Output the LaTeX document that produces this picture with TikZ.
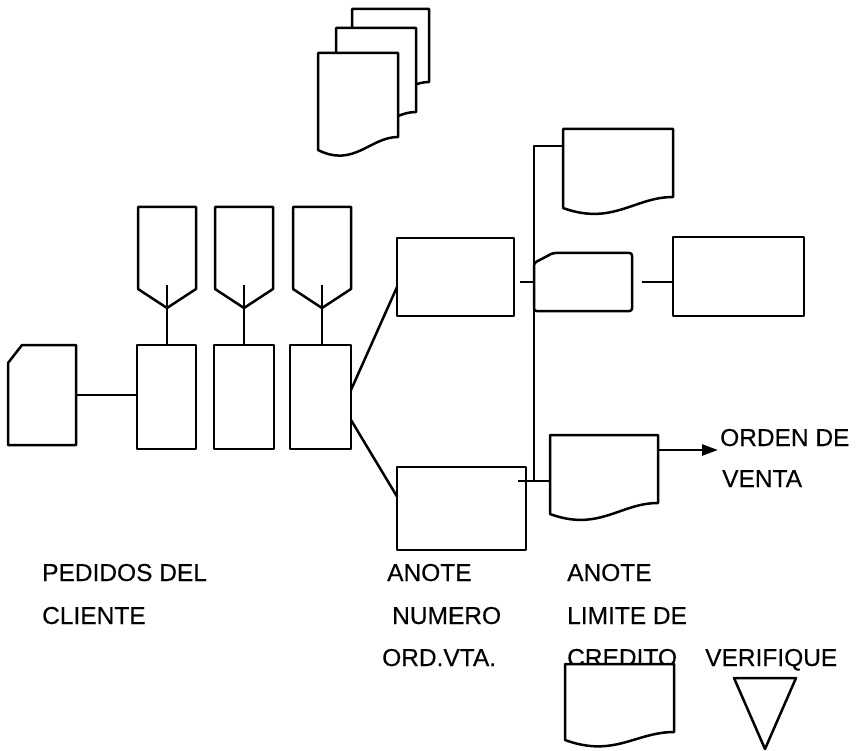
\documentclass[tikz,border=0pt]{standalone}
\usepackage{fontspec}
\setmainfont{Liberation Sans}
\usetikzlibrary{calc,arrows.meta}

% document symbol drawn over the frame of node #1; #2 = rise of the right end of the wavy base
\newcommand{\drawdoc}[2]{%
  \draw[outline, fill=white] (#1.south west) -- (#1.north west) -- (#1.north east)
    -- ($(#1.south east)+(0,-#2)$)
    .. controls ($(#1.south east)!0.35!(#1.south west)+(0,-#2)$)
       and ($(#1.south west)!0.45!(#1.south east)+(0,18)$) .. (#1.south west) -- cycle;}

\begin{document}
\begin{tikzpicture}[x=1pt,y=-1pt,
  outline/.style={line width=2.5pt, line join=round},
  frame/.style={draw=none, inner sep=0pt, outer sep=0pt, rectangle},
  procbox/.style={frame, draw, outline},
  label/.style={anchor=base west, inner sep=0pt,
    font={\fontsize{24.5}{28}\selectfont\addfontfeatures{FakeBold=0.3}}},
]
\useasboundingbox (0,0) rectangle (859,751);

% ---- stacked documents at the top
\node[frame, minimum width=77, minimum height=86] (s1) at (390.5,52) {};
\node[frame, minimum width=80, minimum height=97] (s2) at (376,76.5) {};
\node[frame, minimum width=80, minimum height=97] (s3) at (358,101.5) {};
\drawdoc{s1}{13}
\drawdoc{s2}{13}
\drawdoc{s3}{13}

% ---- punched card of the orders
\node[frame, minimum width=68, minimum height=100] (c0) at (42,395) {};
\draw[outline] ($(c0.north west)+(0,18)$) -- ($(c0.north west)+(14,0)$) -- (c0.north east)
  -- (c0.south east) -- (c0.south west) -- cycle;

% ---- three process boxes
\node[procbox, minimum width=59, minimum height=104] (b1) at (166.5,397) {};
\node[procbox, minimum width=60, minimum height=104] (b2) at (244,397) {};
\node[procbox, minimum width=61, minimum height=104] (b3) at (320.5,397) {};

% ---- off-page connectors above the boxes
\foreach \n/\cx in {p1/167, p2/244, p3/322} {
  \node[frame, minimum width=58, minimum height=101] (\n) at (\cx,257.5) {};
  \draw[outline] (\n.south) -- ($(\n.south west)+(0,-19)$) -- (\n.north west)
    -- (\n.north east) -- ($(\n.south east)+(0,-19)$) -- cycle;
}
\draw[outline] ($(p1.south)+(0,-23)$) -- (p1.south |- b1.north);
\draw[outline] ($(p2.south)+(0,-23)$) -- (p2.south |- b2.north);
\draw[outline] ($(p3.south)+(0,-23)$) -- (p3.south |- b3.north);
\draw[outline] (c0.east) -- (c0.east -| b1.west);

% ---- the two "ANOTE" boxes
\node[procbox, minimum width=117, minimum height=78] (A1) at (455.5,277) {};
\node[procbox, minimum width=129, minimum height=83] (A2) at (461.5,508.5) {};
\draw[outline] ($(b3.east)+(0,-7)$) -- ($(A1.west)+(0,10)$);
\draw[outline] ($(b3.east)+(0,23)$) -- ($(A2.west)+(0,-12)$);

% ---- right-hand column
\node[frame, minimum width=110, minimum height=79] (D1) at (618,168.5) {};
\node[frame, minimum width=108, minimum height=79] (D2) at (604,474.5) {};
\node[frame, minimum width=98, minimum height=58] (M) at (583,282) {};
\node[procbox, minimum width=131, minimum height=79] (R) at (738.5,276.5) {};

\coordinate (jt) at ($(D1.west)+(0,-22.5)$);
\coordinate (jb) at ($(D2.west)+(0,6.5)$);
\coordinate (a1s) at ($(A1.east)+(6,0)$);
\coordinate (a2s) at ($(A2.east)+(-8,0)$);
\coordinate (ms) at ($(M.east)+(10,0)$);
\coordinate (tip) at (718,450);

\drawdoc{D1}{11}
\drawdoc{D2}{11}
\draw[outline, rounded corners=2.5pt] ($(M.north west)+(0,10)$) -- ($(M.north west)+(19,0)$)
  -- (M.north east) -- (M.south east) -- (M.south west) -- cycle;
\draw[outline] (jt) -| (M.north west |- jb) -- (jb);
\draw[outline] (a1s |- M.west) -- (M.west);
\draw[outline] (a2s |- jb) -- (jb);
\draw[outline] (ms) -- (ms -| R.west);
\draw[outline, -{Triangle[length=16pt, width=11pt]}] (tip -| D2.east) -- (tip);

% ---- labels
\node[label] (o1) at (720,446) {ORDEN DE};
\node[label] (o2) at (722,487) {VENTA};
\node[label] (l1) at (42,581) {PEDIDOS DEL};
\node[label] (l2) at (42,624) {CLIENTE};
\node[label] (n1) at (387,581) {ANOTE};
\node[label] (n2) at (392,624) {NUMERO};
\node[label] (n3) at (382,666) {ORD.VTA.};
\node[label] (k1) at (567,581) {ANOTE};
\node[label] (k2) at (567,624) {LIMITE DE};
\node[label] (k3) at (567,666) {CREDITO};
\node[label] (v1) at (705,666) {VERIFIQUE};

% ---- file and check symbols at the bottom
\node[frame, minimum width=109, minimum height=76] (D3) at (619.5,702) {};
\drawdoc{D3}{8}
\node[frame, minimum width=62, minimum height=71] (T) at (765,713.5) {};
\draw[outline] (T.north west) -- (T.north east) -- (T.south) -- cycle;
\end{tikzpicture}
\end{document}
